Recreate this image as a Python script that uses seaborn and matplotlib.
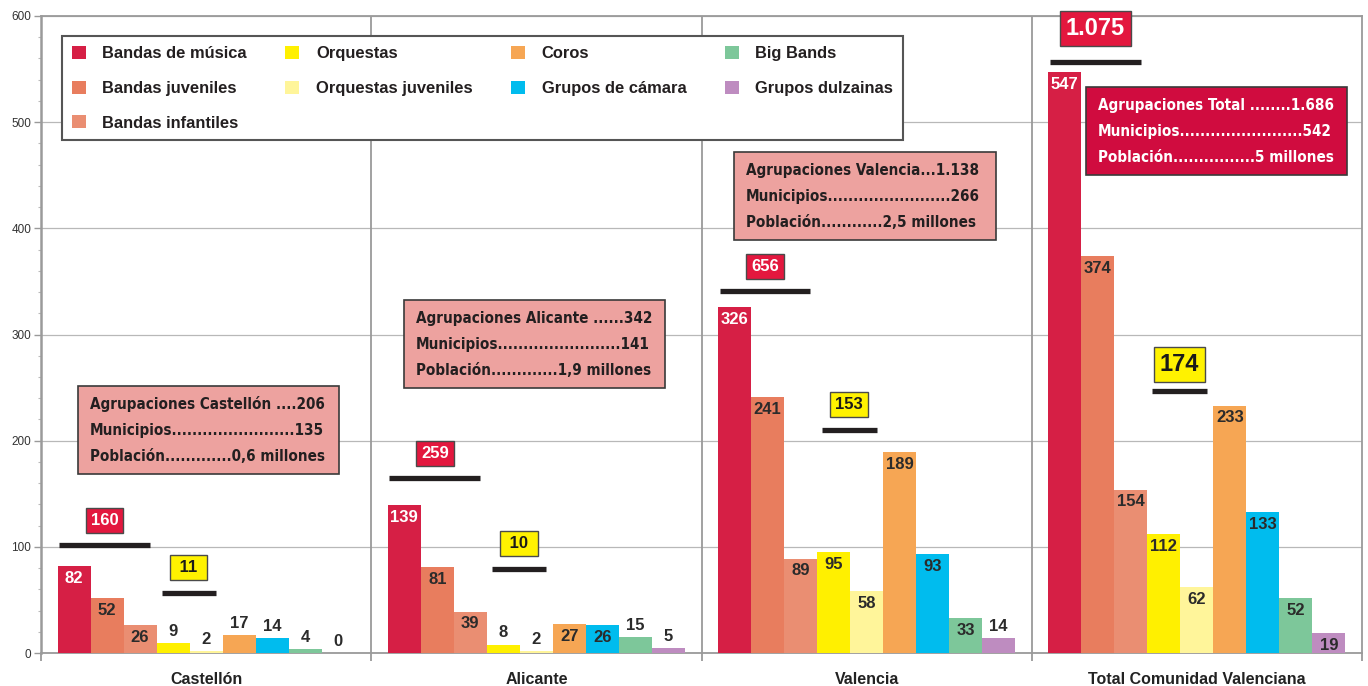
import numpy as np
import pandas as pd
import matplotlib
matplotlib.use("Agg")
import matplotlib.pyplot as plt
from matplotlib.patches import Rectangle
from matplotlib.textpath import TextToPath
from matplotlib.font_manager import FontProperties, fontManager
import seaborn as sns

# ---------------- data ----------------
regions = ["Castellón", "Alicante", "Valencia", "Total Comunidad Valenciana"]
series = ["Bandas de música", "Bandas juveniles", "Bandas infantiles", "Orquestas",
          "Orquestas juveniles", "Coros", "Grupos de cámara", "Big Bands", "Grupos dulzainas"]
castellon = [82, 52, 26, 9, 2, 17, 14, 4, 0]
alicante = [139, 81, 39, 8, 2, 27, 26, 15, 5]
valencia = [326, 241, 89, 95, 58, 189, 93, 33, 14]
total = [547, 374, 154, 112, 62, 233, 133, 52, 19]

bandas_totals = ["160", "259", "656", "1.075"]
orquestas_totals = ["11", "10", "153", "174"]

info_names = ["Agrupaciones Castellón ", "Agrupaciones Alicante ", "Agrupaciones Valencia", "Agrupaciones Total "]
info_first_dots = [4, 6, 3, 8]
info_agrup = ["206", "342", "1.138", "1.686"]
info_munic = ["135", "141", "266", "542"]
info_pobl = ["0,6 millones", "1,9 millones", "2,5 millones", "5 millones"]

colors = ["#D61F45", "#E87D5E", "#EA8E72", "#FFF000", "#FFF59A",
          "#F6A654", "#00BCEE", "#7DC79A", "#BE8CC0"]

# ---------------- layout (annotation positions) ----------------
bandas_line_y = [101.7, 164.8, 340.9, 557]
orq_line_y = [56.5, 79, 210, 246.7]
box_offset = [23, 23, 23, 31]
orq_box_offset = [24, 24, 24, 25]
info_center = [(0.008, 210), (0.995, 291), (1.995, 430), (3.059, 491.5)]

sns.set_style("white")
plt.rcParams['font.family'] = ['Liberation Sans', 'DejaVu Sans']

df = pd.DataFrame({
    "Región": np.repeat(regions, len(series)),
    "Tipo": series * len(regions),
    "Agrupaciones": castellon + alicante + valencia + total,
})

fig, ax = plt.subplots(figsize=(13.68, 6.86), dpi=100)
fig.subplots_adjust(left=41/1368, right=1362/1368, bottom=1-653/686, top=1-16/686)

sns.barplot(data=df, x="Región", y="Agrupaciones", hue="Tipo", order=regions,
            hue_order=series, palette=colors, width=0.9, gap=0, saturation=1,
            linewidth=0, ax=ax, zorder=3)

ax.set_xlim(-0.5, 3.5)
ax.set_ylim(0, 600)
ax.set_xlabel("")
ax.set_ylabel("")

gray = "#9a9a9a"
for s in ax.spines.values():
    s.set_color(gray)
    s.set_linewidth(1.3)
    s.set_visible(True)
ax.spines['left'].set_linewidth(1.8)
for b in [0.5, 1.5, 2.5]:
    ax.axvline(b, color=gray, lw=1.3, zorder=1)
ax.yaxis.grid(True, color="#b8b8b8", lw=0.9)
ax.set_axisbelow(True)

ax.set_yticks(range(0, 601, 100))
ax.set_yticks(range(0, 601, 20), minor=True)
ax.tick_params(axis='y', which='major', length=5, width=1, color=gray,
               labelsize=8.5, labelcolor="#333333", pad=2, left=True)
ax.tick_params(axis='y', which='minor', length=2.5, width=0.8, color="#bbbbbb", left=True)
ax.set_xticks(range(len(regions)))
ax.set_xticklabels(regions, fontsize=11.5, fontweight='bold', color="#222222")
ax.set_xticks([-0.5, 0.5, 1.5, 2.5, 3.5], minor=True)
ax.tick_params(axis='x', which='major', length=0, pad=14, bottom=False)
ax.tick_params(axis='x', which='minor', length=6, width=1.3, color=gray, bottom=True)

# bar value labels
for si, cont in enumerate(ax.containers):
    for patch in cont:
        h = patch.get_height()
        cx = patch.get_x() + patch.get_width() / 2
        inside = h >= 18
        col = "white" if si == 0 else "#2b2b2b"
        if inside:
            ax.annotate(f"{int(round(h))}", (cx, h), xytext=(0, -3.5), textcoords="offset points",
                        ha="center", va="top", fontsize=12, fontweight="bold", color=col, zorder=6)
        else:
            ax.annotate(f"{int(round(h))}", (cx, h), xytext=(0, 3), textcoords="offset points",
                        ha="center", va="bottom", fontsize=12, fontweight="bold", color="#2b2b2b", zorder=6)

# summary lines and boxes
conts = ax.containers
for gi in range(len(regions)):
    p0 = conts[0][gi]; p2 = conts[2][gi]
    x0 = p0.get_x() + 0.05 * p0.get_width()
    x1 = p2.get_x() + 0.8 * p2.get_width()
    y = bandas_line_y[gi]
    ax.plot([x0, x1], [y, y], color="#231f20", lw=3.8, solid_capstyle="butt", zorder=6)
    big = gi == 3
    ax.text((x0 + x1) / 2, y + box_offset[gi], bandas_totals[gi],
            ha="center", va="center", fontsize=17 if big else 12, fontweight="bold", color="white",
            bbox=dict(boxstyle="square,pad=0.25" if big else "square,pad=0.3", fc="#E3173E", ec="#4a4a4a", lw=1),
            zorder=7)
    p3 = conts[3][gi]; p4 = conts[4][gi]
    x0 = p3.get_x() + 0.15 * p3.get_width()
    x1 = p4.get_x() + 0.8 * p4.get_width()
    y = orq_line_y[gi]
    ax.plot([x0, x1], [y, y], color="#231f20", lw=3.8, solid_capstyle="butt", zorder=6)
    txt = orquestas_totals[gi]
    if len(txt) == 2:
        txt = f" {txt} "
    ax.text((x0 + x1) / 2, y + orq_box_offset[gi], txt,
            ha="center", va="center", fontsize=17 if big else 12, fontweight="bold", color="#1a1a1a",
            bbox=dict(boxstyle="square,pad=0.25" if big else "square,pad=0.3", fc="#FFF200", ec="#4a4a4a", lw=1),
            zorder=7)

# ---------------- info boxes: pick a narrow bold font if one is installed ----------------
def _stretch_val(st):
    if isinstance(st, (int, float)):
        return st
    table = {'ultra-condensed': 100, 'extra-condensed': 200, 'condensed': 300,
             'semi-condensed': 400, 'normal': 500}
    return table.get(str(st), 500)

def _weight_val(w):
    if isinstance(w, (int, float)):
        return w
    return {'bold': 700, 'semibold': 600, 'demibold': 600, 'heavy': 800, 'black': 900,
            'extra bold': 800, 'normal': 400, 'regular': 400}.get(str(w), 400)

cands = []
for f in fontManager.ttflist:
    nm = f.name.lower()
    narrowish = ('narrow' in nm or 'condensed' in nm or _stretch_val(f.stretch) < 500)
    if narrowish and _weight_val(f.weight) >= 600 and f.style == 'normal':
        cands.append(f)
if cands:
    cands.sort(key=lambda f: (_stretch_val(f.stretch), abs(_weight_val(f.weight) - 700)))
    base_prop = FontProperties(fname=cands[0].fname)
else:
    base_prop = FontProperties(family=['Roboto', 'Liberation Sans', 'DejaVu Sans'], weight='bold')

ttp = TextToPath()

def width_px(s, size):
    p = base_prop.copy()
    p.set_size(size)
    return ttp.get_text_width_height_descent(s, p, ismath=False)[0] * 100 / 72

# size so that the first line of the Alicante box is ~236 px wide, capped
ref_line = info_names[1] + "." * info_first_dots[1] + info_agrup[1]
info_fs = min(13.5, 10 * 236 / width_px(ref_line, 10))
info_prop = base_prop.copy()
info_prop.set_size(info_fs)

dot_w = width_px("..", info_fs) - width_px(".", info_fs)
box_w = 262 / 331
box_h = 88 / 1.062
for gi in range(len(regions)):
    cx, cy = info_center[gi]
    is_total = gi == 3
    fc = "#D00C3F" if is_total else "#EDA29F"
    tc = "white" if is_total else "#231f20"
    ax.add_patch(Rectangle((cx - box_w / 2, cy - box_h / 2), box_w, box_h, fc=fc, ec="#3a3a3a",
                           lw=1.2, zorder=8))
    line1 = info_names[gi] + "." * info_first_dots[gi] + info_agrup[gi]
    target = width_px(line1, info_fs)
    lines = [line1]
    for lab, val in [("Municipios", info_munic[gi]), ("Población", info_pobl[gi])]:
        n = 1
        while width_px(lab + "." * (n + 1) + val, info_fs) <= target + dot_w * 0.5:
            n += 1
        lines.append(lab + "." * n + val)
    top = cy + box_h / 2
    for li, s in enumerate(lines):
        ax.text(cx - box_w / 2 + 12 / 331, top - (17 + 24.5 * li), s, ha="left", va="center",
                fontproperties=info_prop, color=tc, zorder=9)

# legend
old = ax.get_legend()
handles = old.legend_handles
labels = [t.get_text() for t in old.get_texts()]
old.remove()
ax0 = (62 - 41) / 1321
axw = (903 - 62) / 1321
ytop = (653 - 36) / 637
ybot = (653 - 138) / 637
leg = ax.legend(handles, labels, loc="upper left", bbox_to_anchor=(ax0, ybot, axw, ytop - ybot),
                mode="expand", ncol=4, frameon=True, fancybox=False, framealpha=1,
                edgecolor="#555555", borderpad=0.6, handlelength=0.85, handleheight=0.85,
                handletextpad=1.0, labelspacing=1.17, borderaxespad=0,
                prop=dict(size=11.9, weight="bold"))
leg.get_frame().set_linewidth(1.5)
leg.set_zorder(10)
for t in leg.get_texts():
    t.set_color("#231f20")

fig.savefig("out.png", dpi=100)
